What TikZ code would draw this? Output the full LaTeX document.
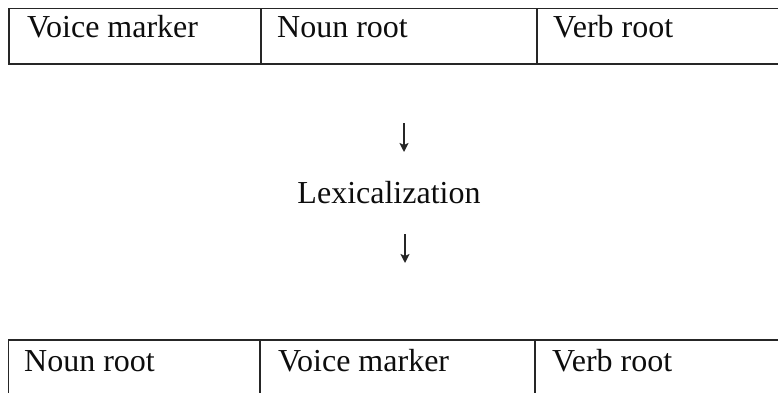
\documentclass[tikz,border=0pt]{standalone}
\usepackage{fontspec}
\setmainfont{Liberation Serif}
\usetikzlibrary{arrows.meta}
\begin{document}
\begin{tikzpicture}[x=1pt,y=-1pt,
  rule/.style={line width=1.7pt,draw=black!85},
  cell/.style={anchor=base west,inner sep=0pt,text=black!95,font=\fontsize{32}{36}\selectfont},
  label/.style={anchor=base,inner sep=0pt,text=black!95,font=\fontsize{32}{36}\selectfont},
  down/.style={line width=1.6pt,draw=black!85,-{Stealth[length=9pt,width=9pt,inset=2pt]}}]
  \useasboundingbox (0,0) rectangle (778,393);
  % upper row (open at the right edge)
  \draw[rule] (778,8.5) -- (9,8.5) -- (9,64) -- (778,64);
  \draw[rule] (261,8.5) -- (261,64);
  \draw[rule] (537,8.5) -- (537,64);
  \node[cell] (a1) at (27,38) {Voice marker};
  \node[cell] (a2) at (277,38) {Noun root};
  \node[cell] (a3) at (553,38) {Verb root};
  % process label with arrows
  \node[label] (lex) at (389,203) {Lexicalization};
  \coordinate (u1) at (404,123);
  \coordinate (u2) at (404,152);
  \coordinate (d1) at (405,234);
  \coordinate (d2) at (405,263);
  \draw[down] (u1) -- (u2);
  \draw[down] (d1) -- (d2);
  % lower row (cut off at the bottom)
  \draw[rule] (778,340) -- (8.5,340) -- (8.5,393);
  \draw[rule] (260,340) -- (260,393);
  \draw[rule] (535,340) -- (535,393);
  \node[cell] (b1) at (24,371) {Noun root};
  \node[cell] (b2) at (278,371) {Voice marker};
  \node[cell] (b3) at (552,371) {Verb root};
\end{tikzpicture}
\end{document}
